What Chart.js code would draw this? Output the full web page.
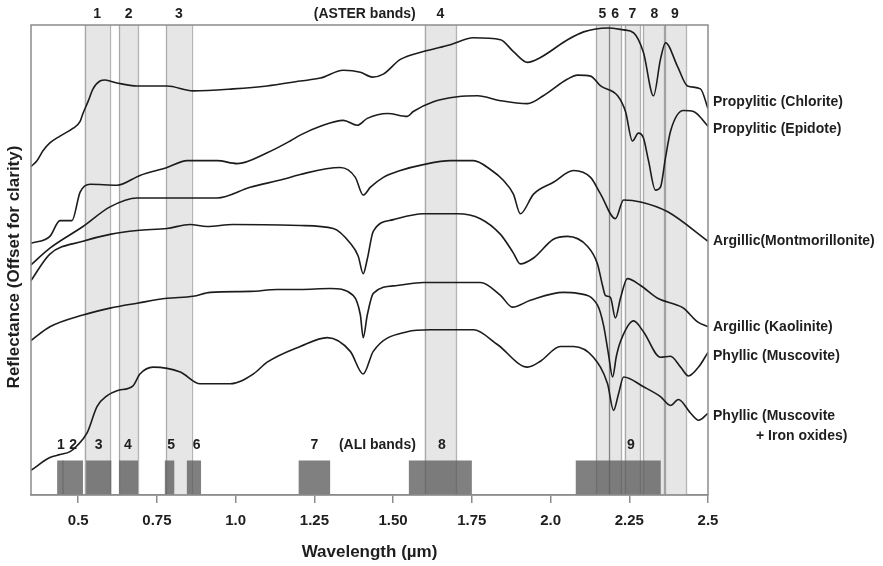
<!DOCTYPE html>
<html>
<head>
<meta charset="utf-8">
<script src="https://cdn.jsdelivr.net/npm/chart.js@4.4.1/dist/chart.umd.min.js"></script>
<style>
  html, body { margin: 0; padding: 0; background: #fff; }
  #spectra { display: block; }
</style>
</head>
<body>
<canvas id="spectra" width="883" height="566"></canvas>
<script>
// wavelength ticks (µm)
const tickValues = [0.5, 0.75, 1.0, 1.25, 1.5, 1.75, 2.0, 2.25, 2.5];
const tickLabels = ["0.5", "0.75", "1.0", "1.25", "1.50", "1.75", "2.0", "2.25", "2.5"];

// ASTER VNIR/SWIR bands
const asterStart = [0.52, 0.63, 0.78, 1.60, 2.145, 2.185, 2.235, 2.295, 2.360];
const asterEnd   = [0.60, 0.69, 0.86, 1.70, 2.185, 2.225, 2.285, 2.365, 2.430];
const asterNames = ["1", "2", "3", "4", "5", "6", "7", "8", "9"];

// ALI bands
const aliStart = [0.433, 0.450, 0.525, 0.630, 0.775, 0.845, 1.20, 1.55, 2.08];
const aliEnd   = [0.453, 0.515, 0.605, 0.690, 0.805, 0.890, 1.30, 1.75, 2.35];
const aliNames = ["1", "2", "3", "4", "5", "6", "7", "8", "9"];
const aliLabelAt = [0.445, 0.484, 0.565, 0.658, 0.795, 0.876, 1.25, 1.655, 2.255];

// spectra (reflectance, offset for clarity)
const chloriteX = [0.35, 0.369, 0.388, 0.410, 0.442, 0.484, 0.506, 0.515, 0.531, 0.547, 0.569, 0.585, 0.623, 0.687, 0.782, 0.865, 0.992, 1.100, 1.205, 1.269, 1.342, 1.396, 1.434, 1.469, 1.523, 1.596, 1.682, 1.755, 1.841, 1.882, 1.927, 1.968, 2.054, 2.105, 2.181, 2.232, 2.264, 2.295, 2.327, 2.349, 2.365, 2.403, 2.435, 2.476, 2.5];
const chloriteY = [3.34, 3.40, 3.50, 3.58, 3.65, 3.73, 3.80, 3.88, 4.00, 4.13, 4.21, 4.22, 4.19, 4.16, 4.16, 4.11, 4.13, 4.16, 4.21, 4.24, 4.32, 4.30, 4.25, 4.28, 4.43, 4.51, 4.58, 4.65, 4.63, 4.51, 4.40, 4.45, 4.63, 4.71, 4.75, 4.73, 4.70, 4.50, 4.06, 4.43, 4.60, 4.36, 4.16, 4.13, 3.93];

const epidoteX = [0.35, 0.410, 0.442, 0.480, 0.506, 0.538, 0.623, 0.696, 0.782, 0.846, 0.941, 1.005, 1.100, 1.173, 1.205, 1.269, 1.342, 1.386, 1.418, 1.482, 1.545, 1.564, 1.628, 1.704, 1.768, 1.841, 1.927, 1.977, 2.054, 2.086, 2.127, 2.159, 2.213, 2.238, 2.260, 2.279, 2.295, 2.311, 2.333, 2.349, 2.365, 2.381, 2.422, 2.454, 2.5];
const epidoteY = [2.56, 2.63, 2.79, 2.79, 3.08, 3.16, 3.15, 3.25, 3.33, 3.40, 3.40, 3.37, 3.48, 3.60, 3.66, 3.75, 3.81, 3.76, 3.83, 3.88, 3.85, 3.90, 4.00, 4.05, 4.06, 4.01, 3.98, 4.06, 4.23, 4.27, 4.26, 4.16, 4.06, 3.90, 3.60, 3.68, 3.63, 3.40, 3.10, 3.13, 3.43, 3.70, 3.91, 3.90, 3.75];

const montX = [0.35, 0.410, 0.515, 0.601, 0.687, 0.782, 0.941, 1.046, 1.151, 1.205, 1.332, 1.380, 1.405, 1.428, 1.469, 1.523, 1.596, 1.682, 1.755, 1.809, 1.850, 1.882, 1.904, 1.946, 2.009, 2.073, 2.127, 2.159, 2.206, 2.232, 2.286, 2.372, 2.5];
const montY = [2.34, 2.51, 2.73, 2.93, 3.02, 3.02, 3.02, 3.13, 3.21, 3.26, 3.33, 3.23, 3.05, 3.13, 3.23, 3.30, 3.36, 3.40, 3.40, 3.31, 3.20, 3.06, 2.86, 3.06, 3.18, 3.30, 3.23, 3.06, 2.81, 3.00, 2.98, 2.88, 2.58];

const kaolX = [0.35, 0.410, 0.515, 0.601, 0.687, 0.782, 0.855, 0.909, 0.992, 1.205, 1.310, 1.364, 1.389, 1.405, 1.418, 1.437, 1.501, 1.596, 1.704, 1.777, 1.841, 1.882, 1.904, 1.946, 2.009, 2.054, 2.117, 2.149, 2.165, 2.174, 2.190, 2.206, 2.222, 2.244, 2.286, 2.340, 2.403, 2.422, 2.467, 2.5];
const kaolY = [2.18, 2.45, 2.58, 2.65, 2.69, 2.71, 2.75, 2.73, 2.75, 2.74, 2.71, 2.56, 2.43, 2.25, 2.40, 2.68, 2.80, 2.86, 2.86, 2.81, 2.65, 2.46, 2.35, 2.41, 2.60, 2.63, 2.53, 2.35, 2.13, 2.03, 2.01, 1.80, 2.00, 2.20, 2.13, 2.00, 1.93, 1.90, 1.76, 1.71];

const muscX = [0.35, 0.410, 0.515, 0.601, 0.687, 0.782, 0.865, 0.919, 1.046, 1.132, 1.205, 1.300, 1.373, 1.396, 1.405, 1.418, 1.437, 1.513, 1.596, 1.777, 1.841, 1.879, 1.936, 2.041, 2.086, 2.149, 2.168, 2.184, 2.197, 2.209, 2.222, 2.264, 2.295, 2.349, 2.381, 2.413, 2.438, 2.470, 2.5];
const muscY = [1.57, 1.71, 1.83, 1.90, 1.95, 2.00, 2.02, 2.06, 2.07, 2.09, 2.09, 2.10, 2.03, 1.83, 1.60, 1.83, 2.05, 2.13, 2.16, 2.16, 2.03, 1.91, 1.98, 2.06, 2.05, 1.93, 1.73, 1.43, 1.20, 1.41, 1.56, 1.77, 1.66, 1.40, 1.41, 1.30, 1.21, 1.30, 1.45];

const muscFeX = [0.35, 0.410, 0.442, 0.474, 0.496, 0.528, 0.560, 0.592, 0.623, 0.674, 0.696, 0.738, 0.824, 0.887, 0.983, 1.056, 1.100, 1.205, 1.291, 1.364, 1.405, 1.437, 1.545, 1.618, 1.755, 1.831, 1.927, 1.968, 2.031, 2.073, 2.136, 2.181, 2.200, 2.216, 2.232, 2.295, 2.349, 2.381, 2.406, 2.445, 2.470, 2.5];
const muscFeY = [0.25, 0.38, 0.41, 0.44, 0.50, 0.63, 0.90, 1.01, 1.06, 1.11, 1.23, 1.30, 1.25, 1.13, 1.13, 1.23, 1.35, 1.51, 1.60, 1.46, 1.23, 1.46, 1.66, 1.68, 1.68, 1.53, 1.30, 1.36, 1.51, 1.51, 1.40, 1.13, 0.86, 1.03, 1.20, 1.10, 1.00, 0.91, 0.97, 0.83, 0.76, 0.83];

const spectra = [
    { xs: chloriteX, ys: chloriteY, label: "Propylitic (Chlorite)", dy: -6 },
    { xs: epidoteX, ys: epidoteY, label: "Propylitic (Epidote)", dy: 3 },
    { xs: montX, ys: montY, label: "Argillic(Montmorillonite)", dy: 0 },
    { xs: kaolX, ys: kaolY, label: "Argillic (Kaolinite)", dy: 0 },
    { xs: muscX, ys: muscY, label: "Phyllic (Muscovite)", dy: 4 },
    { xs: muscFeX, ys: muscFeY, label: "Phyllic (Muscovite", dy: 3, second: "+ Iron oxides)" }
];

const FONT = "'Liberation Sans', Arial, sans-serif";
const TEXT = "#1e1e1e";
const FRAME = "#8c8c8c";

// bands behind the spectra
const bandsPlugin = {
    id: "bands",
    beforeDatasetsDraw(chart) {
        const { ctx, chartArea: a, scales: { x, y } } = chart;
        ctx.save();
        ctx.fillStyle = "#e6e6e6";
        asterStart.forEach((s, i) => {
            const x0 = x.getPixelForValue(s), x1 = x.getPixelForValue(asterEnd[i]);
            ctx.fillRect(x0, a.top, x1 - x0, a.bottom - a.top);
        });
        const boxTop = y.getPixelForValue(0.35);
        ctx.fillStyle = "rgba(92,92,92,0.78)";
        aliStart.forEach((s, i) => {
            const x0 = x.getPixelForValue(s), x1 = x.getPixelForValue(aliEnd[i]);
            ctx.fillRect(x0, boxTop, x1 - x0, a.bottom - boxTop);
        });
        ctx.strokeStyle = "rgba(90,90,90,0.45)";
        ctx.lineWidth = 1.3;
        asterStart.forEach((s, i) => {
            [s, asterEnd[i]].forEach(v => {
                const px = Math.round(x.getPixelForValue(v)) + 0.5;
                ctx.beginPath();
                ctx.moveTo(px, a.top);
                ctx.lineTo(px, a.bottom);
                ctx.stroke();
            });
        });
        ctx.restore();
    },
    afterDraw(chart) {
        const { ctx, chartArea: a, scales: { x, y } } = chart;
        ctx.save();
        // plot frame
        ctx.strokeStyle = FRAME;
        ctx.lineWidth = 1.5;
        ctx.strokeRect(a.left, a.top, a.right - a.left, a.bottom - a.top);

        ctx.fillStyle = TEXT;
        ctx.textBaseline = "middle";
        ctx.textAlign = "center";
        ctx.font = "bold 14px " + FONT;
        asterNames.forEach((n, i) => {
            ctx.fillText(n, x.getPixelForValue((asterStart[i] + asterEnd[i]) / 2), a.top - 11);
        });
        ctx.fillText("(ASTER bands)", x.getPixelForValue(1.41), a.top - 11);

        const aliY = y.getPixelForValue(0.51);
        aliNames.forEach((n, i) => {
            ctx.fillText(n, x.getPixelForValue(aliLabelAt[i]), aliY);
        });
        ctx.fillText("(ALI bands)", x.getPixelForValue(1.45), aliY);

        // curve names at the right end
        ctx.textAlign = "left";
        spectra.forEach(s => {
            const py = y.getPixelForValue(s.ys[s.ys.length - 1]) + s.dy;
            ctx.fillText(s.label, a.right + 5, py);
            if (s.second) ctx.fillText(s.second, a.right + 48, py + 20);
        });

        // y title
        ctx.font = "bold 17px " + FONT;
        ctx.textAlign = "center";
        ctx.translate(14, 267);
        ctx.rotate(-Math.PI / 2);
        ctx.fillText("Reflectance (Offset for clarity)", 0, 0);
        ctx.restore();
    }
};

new Chart(document.getElementById("spectra"), {
    type: "line",
    data: {
        datasets: spectra.map(s => ({
            label: s.label,
            data: s.xs.map((v, i) => ({ x: v, y: s.ys[i] })),
            borderColor: "#1c1c1c",
            borderWidth: 1.6,
            pointRadius: 0,
            fill: false,
            cubicInterpolationMode: "monotone"
        }))
    },
    options: {
        responsive: false,
        animation: false,
        devicePixelRatio: 1,
        layout: { padding: { left: 31, right: 175, top: 25, bottom: 3.7 } },
        plugins: { legend: { display: false }, tooltip: { enabled: false } },
        scales: {
            x: {
                type: "linear",
                min: 0.35,
                max: 2.5,
                afterBuildTicks: scale => { scale.ticks = tickValues.map(v => ({ value: v })); },
                ticks: {
                    autoSkip: false,
                    maxRotation: 0,
                    padding: 9,
                    color: TEXT,
                    font: { family: FONT, size: 15, weight: "bold" },
                    callback: (v, i) => tickLabels[i]
                },
                grid: { drawOnChartArea: false, drawTicks: true, tickLength: 8, color: FRAME, lineWidth: 1.5 },
                border: { display: true, color: FRAME, width: 1.5 },
                title: {
                    display: true,
                    text: "Wavelength (µm)",
                    color: TEXT,
                    font: { family: FONT, size: 17, weight: "bold" },
                    padding: { top: 3, bottom: 0 }
                }
            },
            y: { display: false, min: 0, max: 4.78 }
        }
    },
    plugins: [bandsPlugin]
});
</script>
</body>
</html>
